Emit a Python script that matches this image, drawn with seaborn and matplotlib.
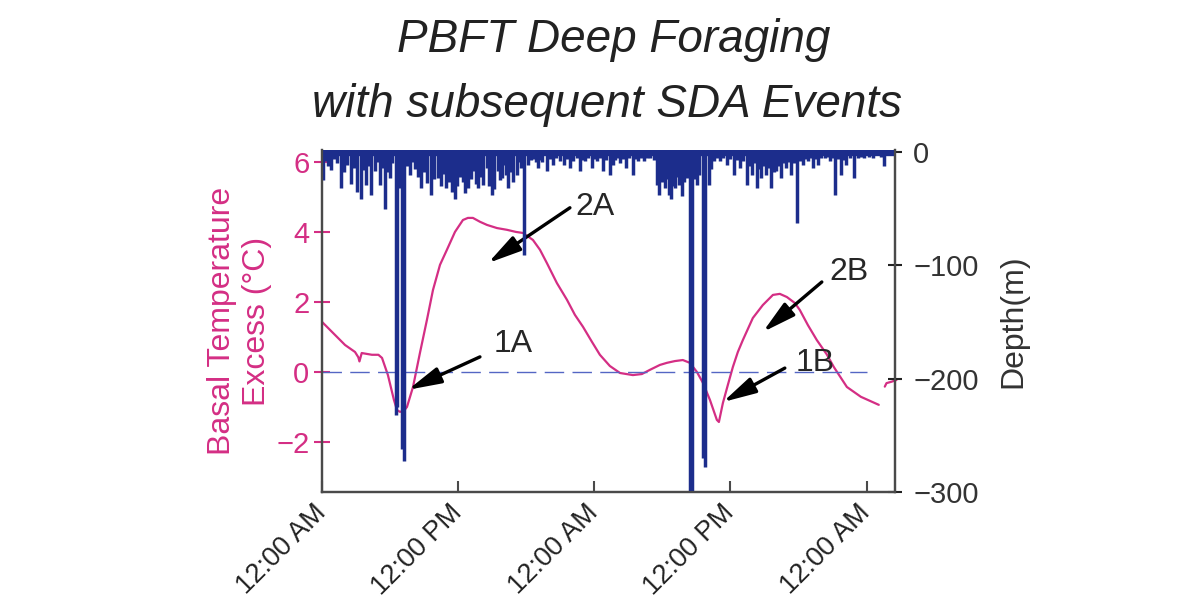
import matplotlib
matplotlib.use("Agg")
import matplotlib.pyplot as plt
import seaborn as sns

sns.set_style("ticks")
plt.rcParams['font.family'] = ['Liberation Sans', 'DejaVu Sans']

# Basal temperature excess (deg C) against hours since the first midnight
temp_hours = [0.0, 2.03, 2.91, 3.2, 3.3, 3.5, 4.4, 4.97, 5.29, 5.81, 6.34, 6.61, 6.87,
              7.22, 7.49, 8.02, 8.63, 9.25, 9.78, 10.4, 11.01, 11.72, 12.42, 12.86,
              13.3, 13.92, 14.54, 15.42, 16.3, 17.09, 17.71, 18.59, 19.21, 19.82,
              20.7, 21.59, 22.29, 23.0, 23.79, 24.49, 25.37, 26.26, 27.4, 28.19,
              28.9, 29.78, 30.4, 31.1, 31.8, 32.42, 33.04, 33.57, 34.19, 34.8,
              34.98, 35.33, 35.77, 36.21, 36.65, 37.09, 37.97, 38.85, 39.74, 40.35,
              40.97, 41.67, 42.11, 42.82, 43.61, 44.49, 45.11, 46.26, 47.49, 49.07]
temp_excess = [1.43, 0.77, 0.57, 0.42, 0.3, 0.54, 0.49, 0.49, 0.4, -0.09, -0.8, -1.09,
               -1.14, -1.11, -1.0, -0.43, 0.54, 1.49, 2.34, 3.06, 3.49, 4.0, 4.34,
               4.4, 4.4, 4.29, 4.2, 4.11, 4.06, 4.0, 3.97, 3.77, 3.49, 3.11, 2.54,
               2.06, 1.63, 1.29, 0.86, 0.49, 0.17, -0.03, -0.09, -0.06, 0.06, 0.2,
               0.26, 0.31, 0.34, 0.26, 0.0, -0.31, -0.8, -1.37, -1.43, -0.89, -0.37,
               0.14, 0.57, 0.91, 1.54, 1.91, 2.2, 2.23, 2.14, 1.97, 1.77, 1.34, 0.91,
               0.5, 0.14, -0.43, -0.71, -0.94]
tail_hours = [49.6, 49.75, 50.19, 50.63]
tail_excess = [-0.42, -0.32, -0.28, -0.23]

# maximum depth (m) of each dive, at the hour it happened
dive_hours = [0.09, 0.35, 0.53, 0.82, 1.06, 1.32, 1.70, 1.94, 2.23, 2.58, 2.82, 3.11,
              3.46, 3.70, 3.90, 4.14, 4.34, 4.70, 4.89, 5.08, 5.29, 5.52, 5.73, 5.96,
              6.17, 6.48, 6.61, 6.85, 7.09, 7.27, 7.49, 7.73, 7.93, 8.17, 8.46, 8.75,
              8.99, 9.25, 9.58, 9.87, 10.22, 10.48, 10.70, 10.95, 11.19, 11.45, 11.69,
              11.89, 12.16, 12.42, 12.64,
              12.89, 13.13, 13.33, 13.57, 13.77, 14.01, 14.21, 14.51, 14.71, 14.95,
              15.18, 15.48, 15.68, 15.83, 16.06, 16.21, 16.41, 16.65, 16.86, 17.15,
              17.36, 17.53, 17.84, 18.18, 18.41, 18.62, 18.85, 19.06, 19.25, 19.41,
              19.80, 20.09, 20.38, 20.66, 20.97, 21.35, 21.59, 21.85, 22.14, 22.47,
              22.73, 23.00, 23.17, 23.48, 23.76, 23.96, 24.20, 24.49, 24.78, 25.07,
              25.37, 25.67,
              25.84, 26.08, 26.28, 26.52, 26.78, 27.09, 27.37, 27.58, 27.84, 28.11,
              28.34, 28.63, 28.93, 29.25, 29.52, 29.67, 29.82, 29.96, 30.25, 30.40,
              30.55, 30.78, 30.97, 31.13, 31.28, 31.43, 31.72, 31.94, 32.16, 32.42,
              32.60, 32.82, 33.04, 33.26, 33.61, 33.79, 34.07, 34.27, 34.51, 34.80,
              35.09, 35.37, 35.68, 35.95, 36.27, 36.56, 36.85, 37.14, 37.44, 37.67,
              37.89, 38.11, 38.33, 38.50, 38.71,
              38.94, 39.15, 39.38, 39.59, 39.82, 40.03, 40.26, 40.47, 40.70, 40.91,
              41.15, 41.35, 41.59, 41.89, 42.11, 42.38, 42.60, 42.82, 43.04, 43.26,
              43.48, 43.70, 44.01, 44.29, 44.49, 44.73, 44.93, 45.17, 45.46, 45.75,
              45.99, 46.19, 46.52, 46.93, 47.22, 47.53, 47.81, 48.19, 48.55, 48.99,
              49.25, 49.52, 49.78, 50.02, 50.31]
dive_depth_m = [-25, -8, -12, -16, -6, -10, -32, -18, -11, -28, -14, -35,
                -41, -16, -29, -12, -38, -17, -9, -29, -14, -50, -18, -23,
                -10, -232, -225, -32, -262, -273, -12, -20, -9, -15, -22, -32,
                -18, -27, -38, -24, -23, -30, -19, -32, -26, -35, -41,
                -30, -22, -26, -36,
                -32, -24, -17, -28, -32, -22, -29, -14, -30, -38,
                -33, -17, -25, -23, -11, -20, -32, -18, -26, -20,
                -9, -14, -91, -11, -7, -6, -9, -14, -7, -9,
                -17, -6, -11, -5, -8, -11, -6, -14, -8, -5,
                -17, -7, -8, -5, -14, -6, -8, -5, -17, -7,
                -20, -11,
                -7, -5, -10, -6, -14, -5, -20, -6, -8, -5,
                -8, -5, -5, -7, -29, -38, -22, -26, -32, -24,
                -38, -41, -30, -32, -22, -29, -39, -26, -23, -302,
                -300, -24, -29, -20, -270, -278, -29, -15, -8, -5,
                -8, -5, -11, -6, -20, -7, -14, -8, -29, -12,
                -20, -10, -32, -15, -23,
                -12, -20, -14, -32, -18, -17, -12, -23, -10, -14,
                -9, -20, -10, -63, -8, -11, -6, -8, -5, -14,
                -6, -11, -5, -5, -4, -8, -5, -38, -6, -20,
                -7, -11, -5, -23, -5, -4, -5, -4, -5, -3,
                -4, -12, -3, -3, -3]
record_span = (0, 50.5)
zero_line_span = (0, 48)

tick_hours = [0, 12, 24, 36, 48]
tick_labels = ['12:00 AM', '12:00 PM', '12:00 AM', '12:00 PM', '12:00 AM']

pink = '#d42e84'
navy = '#1c2d8c'
grey = '#4a4a4a'

fig = plt.figure(figsize=(12.03, 6.10), dpi=100)
ax = fig.add_axes([322 / 1203, 1 - 492 / 610, 573 / 1203, 342 / 610])
ax2 = ax.twinx()

# temperature curve
sns.lineplot(x=temp_hours, y=temp_excess, ax=ax, color=pink, lw=1.6)
ax.plot(tail_hours, tail_excess, color=pink, lw=1.6, clip_on=False)
ax.hlines(0, *zero_line_span, colors='#5466c4', linestyles=(0, (14, 6)), lw=1)

# dive profile
ax2.hlines(0, *record_span, colors=navy, lw=6)
ax2.vlines(dive_hours, 0, dive_depth_m, colors=navy, lw=2.5)

ax.set_xlim(*record_span)
ax.set_ylim(-3.43, 6.34)
ax2.set_ylim(-300, 1.8)

ax.set_xticks(tick_hours)
ax.set_xticklabels(tick_labels, rotation=45, ha='right', va='center',
                   rotation_mode='anchor')
ax.set_yticks([-2, 0, 2, 4, 6])
ax2.set_yticks([0, -100, -200, -300])

ax.tick_params(axis='x', direction='in', length=8, width=1.5, color=grey,
               labelsize=19.5, labelcolor='#222222', pad=12)
ax.tick_params(axis='y', direction='inout', length=12, width=1.5, color=pink,
               labelsize=21, labelcolor=pink, pad=3)
ax2.tick_params(axis='y', direction='inout', length=10, width=1.5, color='#222222',
                labelsize=21, labelcolor='#333333', pad=8)

for a in (ax, ax2):
    a.spines['top'].set_visible(False)
    for s in ('left', 'right', 'bottom'):
        a.spines[s].set_color(grey)
        a.spines[s].set_linewidth(1.6)
    a.grid(False)

ax.set_ylabel('Basal Temperature\nExcess (°C)', color=pink, fontsize=23, labelpad=3)
ax2.set_ylabel('Depth(m)', color='#333333', fontsize=23, labelpad=14)

# annotations
arrow = dict(arrowstyle='-|>,head_length=1.0,head_width=0.25', color='black',
             lw=2.4, shrinkA=0, shrinkB=0, mutation_scale=20)
notes = [('2A', (24.05, 4.71), (21.85, 4.69), (14.63, 3.11)),
         ('1A', (16.83, 0.8), (13.92, 0.43), (7.58, -0.51)),
         ('2B', (46.43, 2.86), (44.05, 2.57), (38.85, 1.14)),
         ('1B', (43.44, 0.26), (40.79, 0.11), (35.33, -0.86))]
for label, txt, tail, tip in notes:
    ax.text(*txt, label, fontsize=23, ha='center', va='center', zorder=6)
    ax.annotate('', xy=tip, xytext=tail, arrowprops=arrow, zorder=6)

fig.text(0.51, 0.915, 'PBFT Deep Foraging', fontsize=33, style='italic',
         ha='center', va='baseline', color='#222222')
fig.text(0.505, 0.808, 'with subsequent SDA Events', fontsize=33, style='italic',
         ha='center', va='baseline', color='#222222')

fig.savefig('out.png', dpi=100)
